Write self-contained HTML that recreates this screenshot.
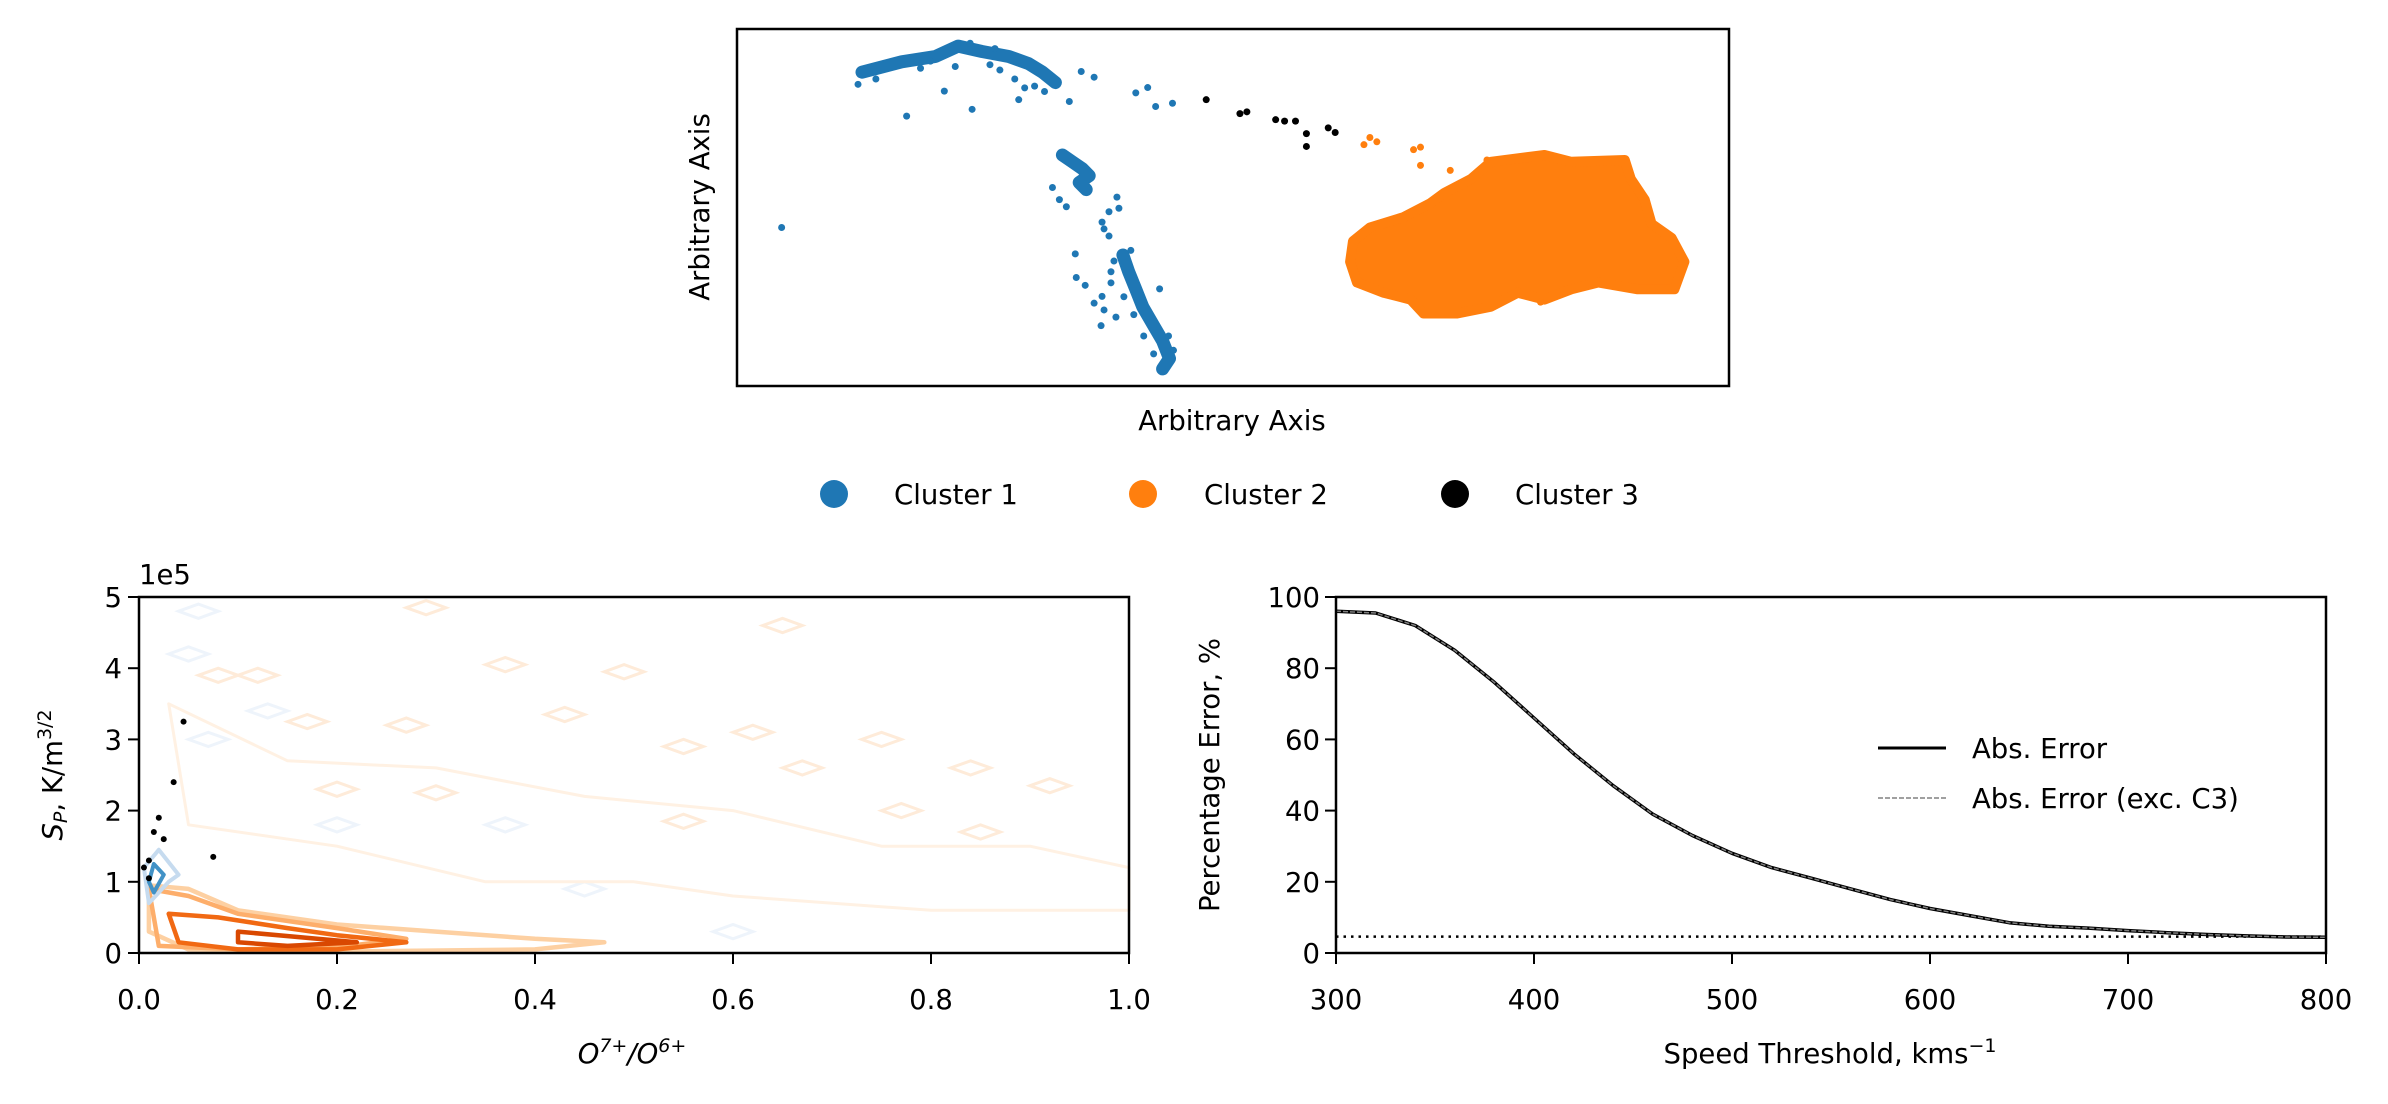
<!DOCTYPE html>
<html><head><meta charset="utf-8"><style>
body{margin:0;background:#fff}
svg{display:block;font-family:"DejaVu Sans","Liberation Sans",sans-serif}
</style></head><body>
<svg id="fig" width="2388" height="1104" viewBox="0 0 2388 1104" xmlns="http://www.w3.org/2000/svg">
<g id="top"></g>
<g id="bl"></g>
<g id="br"></g>
</svg>
<script>
// ---------- Top scatter data (arbitrary units 0-100) ----------
const c1Ridges = [
  [[12.6,87.9],[16.6,90.8],[20,92.3],[22.3,95.2],[24.7,93.7],[27.4,92.3],[29.4,90.3],[30.8,87.9],[32.1,85]],
  [[32.8,64.7],[33.8,62.8],[34.8,60.9],[35.5,58.9],[34.5,57],[35.2,55]],
  [[38.9,36.7],[39.5,31.9],[40.2,27.1],[40.9,22.2],[41.9,17.4],[42.9,12.6],[43.6,7.7],[42.9,4.8]]
];
const c1Points = [[17.1,75.6],[23.7,77.5],[20.9,82.6],[33.5,79.7],[34.7,88.1],[36,86.5],[40.2,82.1],[41.4,83.6],[42.2,78.3],[43.9,79.2],[4.5,44.4],[28.4,80.2],[31.8,55.6],[32.5,52.2],[33.2,50.2],[38.3,52.9],[38.5,49.8],[37.5,48.8],[36.8,45.9],[37,44],[37.5,42],[34.1,37],[34.2,30.4],[35.1,28.2],[36.8,25.1],[36,23.2],[37,21.3],[38.2,19.3],[36.7,16.9],[42.6,27.2],[37.7,32],[37.7,28.9],[14,86],[18.5,89],[25.5,90],[26.5,88.5],[28,86],[30,84],[22,89.5],[19.5,91],[12.2,84.5],[31,82.5],[29,83.5],[38,35],[39,25],[40,20],[41,14],[44,10],[42,9],[43.5,14],[39.7,38],[23.5,96],[26,94.5]];
const c2Outline = [[62.1,40.6],[63.8,44.4],[67.2,47.3],[69.9,51.2],[71.3,54.1],[74,58],[76,62.8],[81.4,64.7],[84.1,62.8],[89.5,63.3],[90.1,58],[91.5,52.2],[92.2,45.4],[94.2,41.5],[95.5,34.8],[94.5,27.1],[90.8,27.1],[86.8,29],[84.1,27.1],[81.4,24.2],[78.7,26.1],[76,22.2],[72.6,20.3],[69.2,20.3],[67.9,24.2],[65.2,26.1],[62.5,29],[61.8,34.8]];
const c2Points = [[63.2,67.6],[63.8,69.6],[64.5,68.4],[68.2,66.2],[68.9,66.9],[68.9,61.8],[71.9,60.4],[75.6,63.3],[81,23.5]];
const c3Points = [[47.3,80.2],[50.7,76.3],[51.4,76.8],[54.3,74.6],[55.2,74.2],[56.3,74.2],[57.4,70.7],[57.4,67.1],[59.6,72.3],[60.3,71]];
const legendLabels = ["Cluster 1","Cluster 2","Cluster 3"];

// ---------- Contour panel data (x: O7+/O6+, y: units of 1e5) ----------
const xTicksL = [0,0.2,0.4,0.6,0.8,1.0];
const xTickLabelsL = ["0.0","0.2","0.4","0.6","0.8","1.0"];
const yTicksL = [0,1,2,3,4,5];
const orangeContours = [
  {c:"#fff1e3", p:[[0.03,3.5],[0.15,2.7],[0.3,2.6],[0.45,2.2],[0.6,2.0],[0.75,1.5],[0.9,1.5],[1.0,1.2],[1.0,0.6],[0.8,0.6],[0.6,0.8],[0.5,1.0],[0.35,1.0],[0.2,1.5],[0.05,1.8]]},
  {c:"#fdd0a2", p:[[0.01,0.95],[0.05,0.9],[0.1,0.6],[0.2,0.4],[0.3,0.3],[0.4,0.2],[0.47,0.15],[0.4,0.05],[0.2,0.02],[0.05,0.05],[0.01,0.3]]},
  {c:"#fdae6b", p:[[0.01,0.9],[0.05,0.8],[0.1,0.55],[0.2,0.35],[0.27,0.2],[0.2,0.08],[0.1,0.05],[0.02,0.1]]},
  {c:"#f16913", p:[[0.03,0.55],[0.08,0.5],[0.15,0.35],[0.2,0.25],[0.27,0.15],[0.2,0.05],[0.1,0.05],[0.04,0.15]]},
  {c:"#d94801", p:[[0.1,0.3],[0.18,0.2],[0.22,0.15],[0.15,0.1],[0.1,0.15]]}
];
const blueContours = [
  {c:"#c6dbef", p:[[0.01,0.7],[0.03,1.0],[0.04,1.1],[0.02,1.45],[0.005,1.2]]},
  {c:"#4292c6", p:[[0.015,0.85],[0.025,1.1],[0.015,1.25],[0.01,1.0]]}
];
const paleOrangeDiamonds = [[0.29,4.85],[0.65,4.6],[0.08,3.9],[0.37,4.05],[0.49,3.95],[0.17,3.25],[0.43,3.35],[0.27,3.2],[0.62,3.1],[0.75,3.0],[0.55,2.9],[0.67,2.6],[0.84,2.6],[0.3,2.25],[0.55,1.85],[0.92,2.35],[0.77,2.0],[0.85,1.7],[0.12,3.9],[0.2,2.3]];
const paleBlueDiamonds = [[0.06,4.8],[0.05,4.2],[0.13,3.4],[0.07,3.0],[0.37,1.8],[0.6,0.3],[0.2,1.8],[0.45,0.9]];
const c3Contour = [[0.005,1.2],[0.01,1.3],[0.015,1.7],[0.02,1.9],[0.025,1.6],[0.035,2.4],[0.075,1.35],[0.045,3.25],[0.01,1.05]];

// ---------- Error curve data ----------
const speeds = [300,320,340,360,380,400,420,440,460,480,500,520,540,560,580,600,620,640,660,680,700,720,740,760,780,800];
const absError = [96,95.5,92,85,76,66,56,47,39,33,28,24,21,18,15,12.5,10.5,8.5,7.5,7,6.3,5.7,5.2,4.8,4.5,4.4];
const absErrorExcC3 = [96,95.5,92,85,76,66,56,47,39,33,28,24,21,18,15,12.5,10.5,8.5,7.5,7,6.3,5.7,5.2,4.8,4.5,4.4];
const baselineLevel = [4.6];
const xTicksR = [300,400,500,600,700,800];
const yTicksR = [0,20,40,60,80,100];

const FS=27.5;
const NS="http://www.w3.org/2000/svg";
function mk(parent,tag,attrs,text){const e=document.createElementNS(NS,tag);for(const k in attrs)e.setAttribute(k,attrs[k]);if(text!==undefined)e.textContent=text;parent.appendChild(e);return e;}
function scale(d0,d1,r0,r1){return v=>r0+(v-d0)/(d1-d0)*(r1-r0);}
function pts(arr,sx,sy){return arr.map(p=>sx(p[0]).toFixed(1)+","+sy(p[1]).toFixed(1)).join(" ");}

// ===== Top panel =====
(function(){
  const g=document.getElementById('top');
  const L=737,R=1729,T=29,B=386;
  const sx=scale(0,100,L,R), sy=scale(0,100,B,T);
  const poly=mk(g,'polygon',{points:pts(c2Outline,sx,sy),fill:'#ff7f0e',stroke:'#ff7f0e','stroke-width':10,'stroke-linejoin':'round'});
  
  
  c2Points.forEach(p=>{const c=mk(g,'circle',{cx:sx(p[0]),cy:sy(p[1]),r:3.5,fill:'#ff7f0e'});});
  c1Ridges.forEach(r=>{const l=mk(g,'polyline',{points:pts(r,sx,sy),fill:'none',stroke:'#1f77b4','stroke-width':13,'stroke-linejoin':'round','stroke-linecap':'round'});});
  c1Points.forEach(p=>{const c=mk(g,'circle',{cx:sx(p[0]),cy:sy(p[1]),r:3.5,fill:'#1f77b4'});});
  c3Points.forEach(p=>{const c=mk(g,'circle',{cx:sx(p[0]),cy:sy(p[1]),r:3.5,fill:'#000'});});
  const fr=mk(g,'rect',{x:L,y:T,width:R-L,height:B-T,fill:'none',stroke:'#000','stroke-width':2.5});
  
  const xl=mk(g,'text',{x:1232,y:430,'font-size':FS,'text-anchor':'middle'},'Arbitrary Axis');
  
  const yl=mk(g,'text',{x:0,y:0,'font-size':FS,'text-anchor':'middle',transform:'translate(709,207) rotate(-90)'},'Arbitrary Axis');
  
  const cols=['#1f77b4','#ff7f0e','#000'], mx=[834,1143,1455], tx=[894,1204,1515];
  legendLabels.forEach((lab,i)=>{
    const le=mk(g,'g',{});
    
    mk(le,'circle',{cx:mx[i],cy:494,r:14,fill:cols[i]});
    mk(le,'text',{x:tx[i],y:504,'font-size':FS},lab);
  });
})();

// ===== Bottom-left contour panel =====
(function(){
  const g=document.getElementById('bl');
  const L=139,R=1129,T=597,B=953;
  const sx=scale(0,1,L,R), sy=scale(0,5,B,T);
  const dw=0.02, dh=0.1;
  paleOrangeDiamonds.forEach(p=>{const d=mk(g,'polygon',{points:pts([[p[0]-dw,p[1]],[p[0],p[1]+dh],[p[0]+dw,p[1]],[p[0],p[1]-dh]],sx,sy),fill:'none',stroke:'#feebd9','stroke-width':3});});
  paleBlueDiamonds.forEach(p=>{const d=mk(g,'polygon',{points:pts([[p[0]-dw,p[1]],[p[0],p[1]+dh],[p[0]+dw,p[1]],[p[0],p[1]-dh]],sx,sy),fill:'none',stroke:'#eef4fb','stroke-width':3});});
  orangeContours.forEach((o,i)=>{const d=mk(g,'polygon',{points:pts(o.p,sx,sy),fill:'none',stroke:o.c,'stroke-width':i===0?3:4.5,'stroke-linejoin':'round'});});
  blueContours.forEach((o,i)=>{const d=mk(g,'polygon',{points:pts(o.p,sx,sy),fill:'none',stroke:o.c,'stroke-width':4,'stroke-linejoin':'round'});});
  c3Contour.forEach(p=>{const c=mk(g,'circle',{cx:sx(p[0]),cy:sy(p[1]),r:3,fill:'#000'});});
  const fr=mk(g,'rect',{x:L,y:T,width:R-L,height:B-T,fill:'none',stroke:'#000','stroke-width':2.5});
  
  xTicksL.forEach((v,i)=>{mk(g,'line',{x1:sx(v),x2:sx(v),y1:B,y2:B+11,stroke:'#000','stroke-width':2});const t=mk(g,'text',{x:sx(v),y:1009,'font-size':FS,'text-anchor':'middle'},xTickLabelsL[i]);});
  yTicksL.forEach(v=>{mk(g,'line',{x1:L-11,x2:L,y1:sy(v),y2:sy(v),stroke:'#000','stroke-width':2});const t=mk(g,'text',{x:L-17,y:sy(v)+10,'font-size':FS,'text-anchor':'end'},String(v));});
  const off=mk(g,'text',{x:139,y:584,'font-size':FS},'1e5');
  const xl=mk(g,'text',{x:632,y:1063,'font-size':FS,'text-anchor':'middle','font-style':'italic'});
  
  xl.innerHTML='O<tspan dy="-11" font-size="19">7+</tspan><tspan dy="11">/O</tspan><tspan dy="-11" font-size="19">6+</tspan>';
  const yl=mk(g,'text',{x:0,y:0,'font-size':FS,'text-anchor':'middle',transform:'translate(62,775) rotate(-90)'});
  
  yl.innerHTML='<tspan font-style="italic">S</tspan><tspan font-style="italic" font-size="19" dy="5">P</tspan><tspan dy="-5">, K/m</tspan><tspan font-size="19" dy="-11">3/2</tspan>';
})();

// ===== Bottom-right error panel =====
(function(){
  const g=document.getElementById('br');
  const L=1336,R=2326,T=597,B=953;
  const sx=scale(300,800,L,R), sy=scale(0,100,B,T);
  const hl=mk(g,'line',{x1:L,x2:R,y1:sy(baselineLevel[0]),y2:sy(baselineLevel[0]),stroke:'#000','stroke-width':2.5,'stroke-dasharray':'2.5,5'});
  
  const p1=mk(g,'polyline',{points:speeds.map((s,i)=>sx(s).toFixed(1)+","+sy(absError[i]).toFixed(1)).join(" "),fill:'none',stroke:'#000','stroke-width':3.5,'stroke-linejoin':'round'});
  
  const p2=mk(g,'polyline',{points:speeds.map((s,i)=>sx(s).toFixed(1)+","+sy(absErrorExcC3[i]).toFixed(1)).join(" "),fill:'none',stroke:'#808080','stroke-width':1.5,'stroke-dasharray':'5,2'});
  
  const fr=mk(g,'rect',{x:L,y:T,width:R-L,height:B-T,fill:'none',stroke:'#000','stroke-width':2.5});
  
  xTicksR.forEach(v=>{mk(g,'line',{x1:sx(v),x2:sx(v),y1:B,y2:B+11,stroke:'#000','stroke-width':2});const t=mk(g,'text',{x:sx(v),y:1009,'font-size':FS,'text-anchor':'middle'},String(v));});
  yTicksR.forEach(v=>{mk(g,'line',{x1:L-11,x2:L,y1:sy(v),y2:sy(v),stroke:'#000','stroke-width':2});const t=mk(g,'text',{x:L-16,y:sy(v)+10,'font-size':FS,'text-anchor':'end'},String(v));});
  const xl=mk(g,'text',{x:1830,y:1063,'font-size':FS,'text-anchor':'middle'});
  
  xl.innerHTML='Speed Threshold, kms<tspan font-size="19" dy="-11">−1</tspan>';
  const yl=mk(g,'text',{x:0,y:0,'font-size':FS,'text-anchor':'middle',transform:'translate(1219,775) rotate(-90)'},'Percentage Error, %');
  
  const l1=mk(g,'g',{});
  mk(l1,'line',{x1:1878,x2:1946,y1:748,y2:748,stroke:'#000','stroke-width':3});
  mk(l1,'text',{x:1972,y:758,'font-size':FS},'Abs. Error');
  const l2=mk(g,'g',{});
  mk(l2,'line',{x1:1878,x2:1946,y1:798,y2:798,stroke:'#808080','stroke-width':1.5,'stroke-dasharray':'5,2'});
  mk(l2,'text',{x:1972,y:808,'font-size':FS},'Abs. Error (exc. C3)');
})();
</script>
</body></html>
